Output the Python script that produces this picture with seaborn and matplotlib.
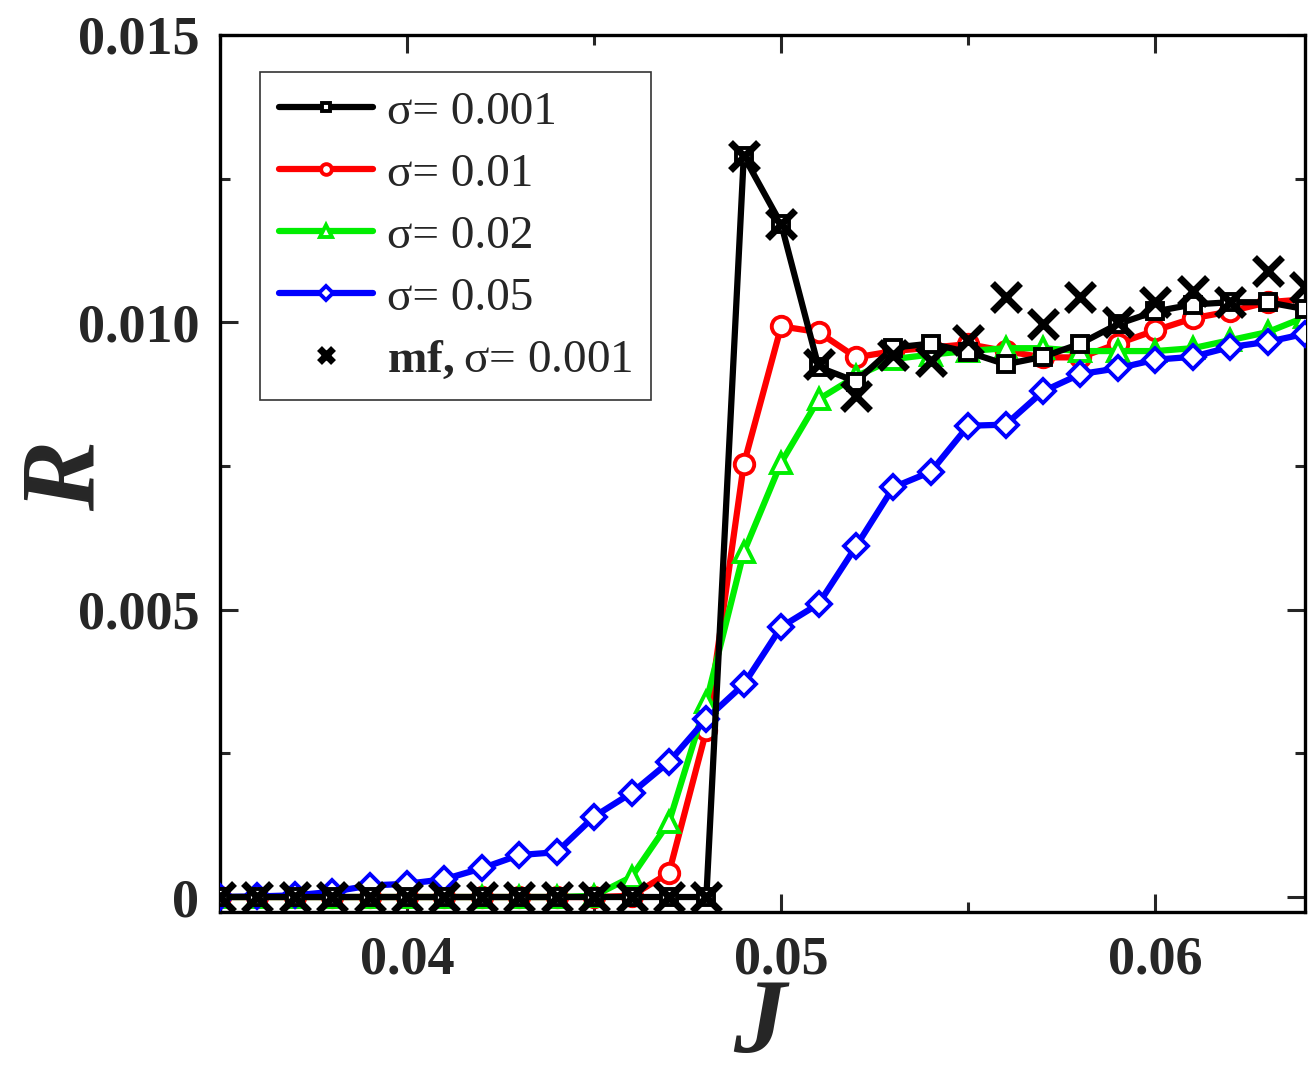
import numpy as np
import pandas as pd
import matplotlib
matplotlib.use("Agg")
import matplotlib.pyplot as plt
import seaborn as sns

J = [0.035, 0.036, 0.037, 0.038, 0.039, 0.040, 0.041, 0.042, 0.043, 0.044,
     0.045, 0.046, 0.047, 0.048, 0.049, 0.050, 0.051, 0.052, 0.053, 0.054,
     0.055, 0.056, 0.057, 0.058, 0.059, 0.060, 0.061, 0.062, 0.063, 0.064]

R_s0001 = [0, 0, 0, 0, 0, 0, 0, 0, 0, 0,
           0, 0, 0, 0, 0.01289, 0.01171, 0.00922, 0.00897, 0.00956, 0.00963,
           0.00948, 0.00927, 0.00940, 0.00963, 0.00997, 0.01019, 0.01031, 0.01035, 0.01035, 0.01023]

R_s001 = [0, 0, 0, 0, 0, 0, 0, 0, 0, 0,
          0, 0.00002, 0.00042, 0.00290, 0.00753, 0.00993, 0.00983, 0.00939, 0.00950, 0.00956,
          0.00962, 0.00950, 0.00939, 0.00939, 0.00963, 0.00986, 0.01007, 0.01019, 0.01035, 0.01040]

R_s002 = [0, 0, 0, 0, 0, 0, 0, 0, 0, 0,
          0.00002, 0.00035, 0.00130, 0.00340, 0.00600, 0.00756, 0.00866, 0.00906, 0.00936, 0.00944,
          0.00950, 0.00955, 0.00955, 0.00950, 0.00950, 0.00950, 0.00955, 0.00969, 0.00983, 0.01009]

R_s005 = [0, 0.00001, 0.00003, 0.00009, 0.00020, 0.00023, 0.00031, 0.00050, 0.00073, 0.00078,
          0.00140, 0.00181, 0.00235, 0.00310, 0.00370, 0.00470, 0.00510, 0.00610, 0.00713, 0.00740,
          0.00820, 0.00822, 0.00880, 0.00910, 0.00920, 0.00935, 0.00940, 0.00957, 0.00966, 0.00980]

R_mf = [0, 0, 0, 0, 0, 0, 0, 0, 0, 0,
        0, 0, 0, 0, 0.01289, 0.01171, 0.00927, 0.00871, 0.00944, 0.00932,
        0.00970, 0.01044, 0.00997, 0.01044, 0.01000, 0.01035, 0.01054, 0.01035, 0.01089, 0.01061]

sns.set_style("ticks")
plt.rcParams["font.family"] = ["Liberation Serif", "DejaVu Serif"]
plt.rcParams["mathtext.fontset"] = "custom"
plt.rcParams["mathtext.rm"] = "Liberation Serif"
plt.rcParams["mathtext.bf"] = "Liberation Serif:bold"

fig = plt.figure(figsize=(13.11, 10.8), dpi=100)
ax = fig.add_axes([0.1678, 0.1556, 0.8276, 0.812])

lw = 4.5
ms = 14
mew = 2.8
sns.lineplot(x=J, y=R_s0001, ax=ax, color="black", linewidth=lw, marker="s", ms=ms * 0.8,
             mfc="white", mec="black", mew=mew, label="σ= 0.001", zorder=5)
sns.lineplot(x=J, y=R_s001, ax=ax, color="red", linewidth=lw, marker="o", ms=ms,
             mfc="white", mec="red", mew=mew, label="σ= 0.01", zorder=2)
sns.lineplot(x=J, y=R_s002, ax=ax, color="#00ee00", linewidth=lw, marker="^", ms=ms * 1.05,
             mfc="white", mec="#00ee00", mew=mew, label="σ= 0.02", zorder=3)
sns.lineplot(x=J, y=R_s005, ax=ax, color="blue", linewidth=lw, marker="D", ms=ms * 0.9,
             mfc="white", mec="blue", mew=mew, label="σ= 0.05", zorder=4)
sns.lineplot(x=J, y=R_mf, ax=ax, color="black", linewidth=0, marker="x", ms=ms * 1.4,
             mec="black", mew=5, label=r"$\mathbf{mf,}$σ= 0.001", zorder=6)

ax.set_xlim(0.035, 0.064)
ax.set_ylim(-0.00026, 0.015)
ax.set_xticks([0.04, 0.05, 0.06])
ax.set_xticklabels(["0.04", "0.05", "0.06"])
ax.set_xticks([0.035, 0.045, 0.055], minor=True)
ax.set_yticks([0, 0.005, 0.010, 0.015])
ax.set_yticklabels(["0", "0.005", "0.010", "0.015"])
ax.set_yticks([0.0025, 0.0075, 0.0125], minor=True)

ax.tick_params(which="both", direction="in", right=True, top=True, width=2.2)
ax.tick_params(which="major", length=13)
ax.tick_params(which="minor", length=7)
ax.tick_params(axis="y", which="major", pad=15, labelsize=39)
ax.tick_params(axis="x", which="major", pad=17, labelsize=39)
for lab in ax.get_xticklabels() + ax.get_yticklabels():
    lab.set_fontweight("bold")
for sp in ax.spines.values():
    sp.set_linewidth(2.4)
    sp.set_color("black")

ax.set_xlabel("J", fontsize=76, fontweight="bold", fontstyle="italic")
ax.set_ylabel("R", fontsize=76, fontweight="bold", fontstyle="italic")
ax.xaxis.set_label_coords(0.497, -0.075)
ax.yaxis.set_label_coords(-0.095, 0.497)

leg = ax.legend(loc="upper left", bbox_to_anchor=(0.037, 0.958), borderaxespad=0,
                fontsize=34, frameon=True, fancybox=False, edgecolor="black",
                handlelength=2.0, handletextpad=0.28, labelspacing=0.4,
                borderpad=0.4, markerscale=0.55)
leg.get_frame().set_linewidth(1.2)

fig.savefig("out.png", dpi=100)
